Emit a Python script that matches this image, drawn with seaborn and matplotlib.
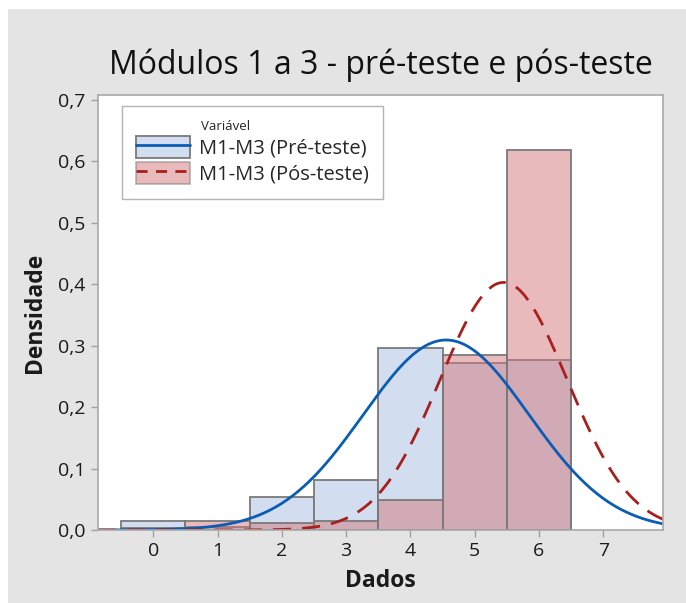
import numpy as np
import pandas as pd
import matplotlib.pyplot as plt
from matplotlib.patches import Patch, Rectangle
from matplotlib.lines import Line2D
from matplotlib.ticker import FuncFormatter
import seaborn as sns

sns.set_style("white")
plt.rcParams['font.family'] = ['Open Sans', 'DejaVu Sans']

# notas (bins centrados nos inteiros)
notas = [0, 1, 2, 3, 4, 5, 6]
dens_pre = [0.015, 0.005, 0.054, 0.081, 0.296, 0.272, 0.276]
dens_pos = [0.004, 0.015, 0.011, 0.015, 0.049, 0.285, 0.618]
# ajuste normal
media_pre, dp_pre = 4.556, 1.29
media_pos, dp_pos = 5.45, 0.99

lbl_pre = "M1-M3 (Pré-teste)"
lbl_pos = "M1-M3 (Pós-teste)"

azul_fill = "#d2def0"
azul_linha = "#0a5cb4"
rosa_fill = "#d3777b"
vermelho = "#a8201e"
cinza = "#7a7a7a"

df = pd.DataFrame({"nota": notas, "pre": dens_pre, "pos": dens_pos})

fig = plt.figure(figsize=(6.86, 6.03), dpi=100, facecolor="white")
fig.patches.append(Rectangle((8 / 686, 0), 1, 1 - 9 / 603, transform=fig.transFigure,
                             facecolor="#e4e4e4", edgecolor="none", zorder=-10))
ax = fig.add_axes([98 / 686, 1 - 530 / 603, 565 / 686, 435 / 603])
ax.set_facecolor("white")

sns.histplot(data=df, x="nota", weights="pre", discrete=True, stat="count",
             color=azul_fill, alpha=1, edgecolor=cinza, linewidth=1.3, ax=ax)
sns.histplot(data=df, x="nota", weights="pos", discrete=True, stat="count",
             color=rosa_fill, alpha=0.5, edgecolor=cinza, linewidth=1.3, ax=ax)

xs = np.linspace(-0.86, 7.93, 300)
def normal(x, m, s):
    return np.exp(-0.5 * ((x - m) / s) ** 2) / (s * np.sqrt(2 * np.pi))

sns.lineplot(x=xs, y=normal(xs, media_pre, dp_pre), color=azul_linha, lw=2.0, ax=ax)
sns.lineplot(x=xs, y=normal(xs, media_pos, dp_pos), color=vermelho, lw=2.0,
             dashes=False, ax=ax).lines[-1].set_dashes([6.5, 4])

ax.set_xlim(-0.86, 7.93)
ax.set_ylim(0, 0.708)
ax.set_xticks(range(0, 8))
ax.set_yticks(np.arange(0, 0.71, 0.1))
ax.yaxis.set_major_formatter(FuncFormatter(lambda v, p: f"{v:.1f}".replace(".", ",")))
ax.tick_params(axis="both", direction="out", length=5, width=1, color="#a0a0a0",
               labelsize=14, labelcolor="#1a1a1a", pad=4, left=True, bottom=True)
for s in ax.spines.values():
    s.set_color("#a8a8a8")
    s.set_linewidth(1.2)

ax.set_xlabel("Dados", fontsize=16.5, fontweight="bold", color="#1a1a1a", labelpad=6)
ax.set_ylabel("Densidade", fontsize=16.5, fontweight="bold", color="#1a1a1a", labelpad=8)
ax.set_title("Módulos 1 a 3 - pré-teste e pós-teste", fontsize=23, color="#111111", pad=15)

h_pre = (Patch(facecolor=azul_fill, edgecolor=cinza, lw=1.3),
         Line2D([], [], color=azul_linha, lw=2.0))
h_pos = (Patch(facecolor=rosa_fill, alpha=0.5, edgecolor=cinza, lw=1.3),
         Line2D([], [], color=vermelho, lw=2.0, dashes=[4, 3]))
leg = ax.legend([h_pre, h_pos], [lbl_pre, lbl_pos], title="Variável", title_fontsize=9.5,
                fontsize=14.5, loc="upper left", bbox_to_anchor=(0.042, 0.975),
                borderaxespad=0, frameon=True, fancybox=False, edgecolor="#a0a0a0",
                handlelength=2.7, handleheight=1.3, borderpad=0.7, labelspacing=0.15,
                handletextpad=0.45, alignment="left")
leg.get_frame().set_linewidth(1.0)
leg.get_title().set_position((65, 0))

fig.savefig("out.png", dpi=100)
